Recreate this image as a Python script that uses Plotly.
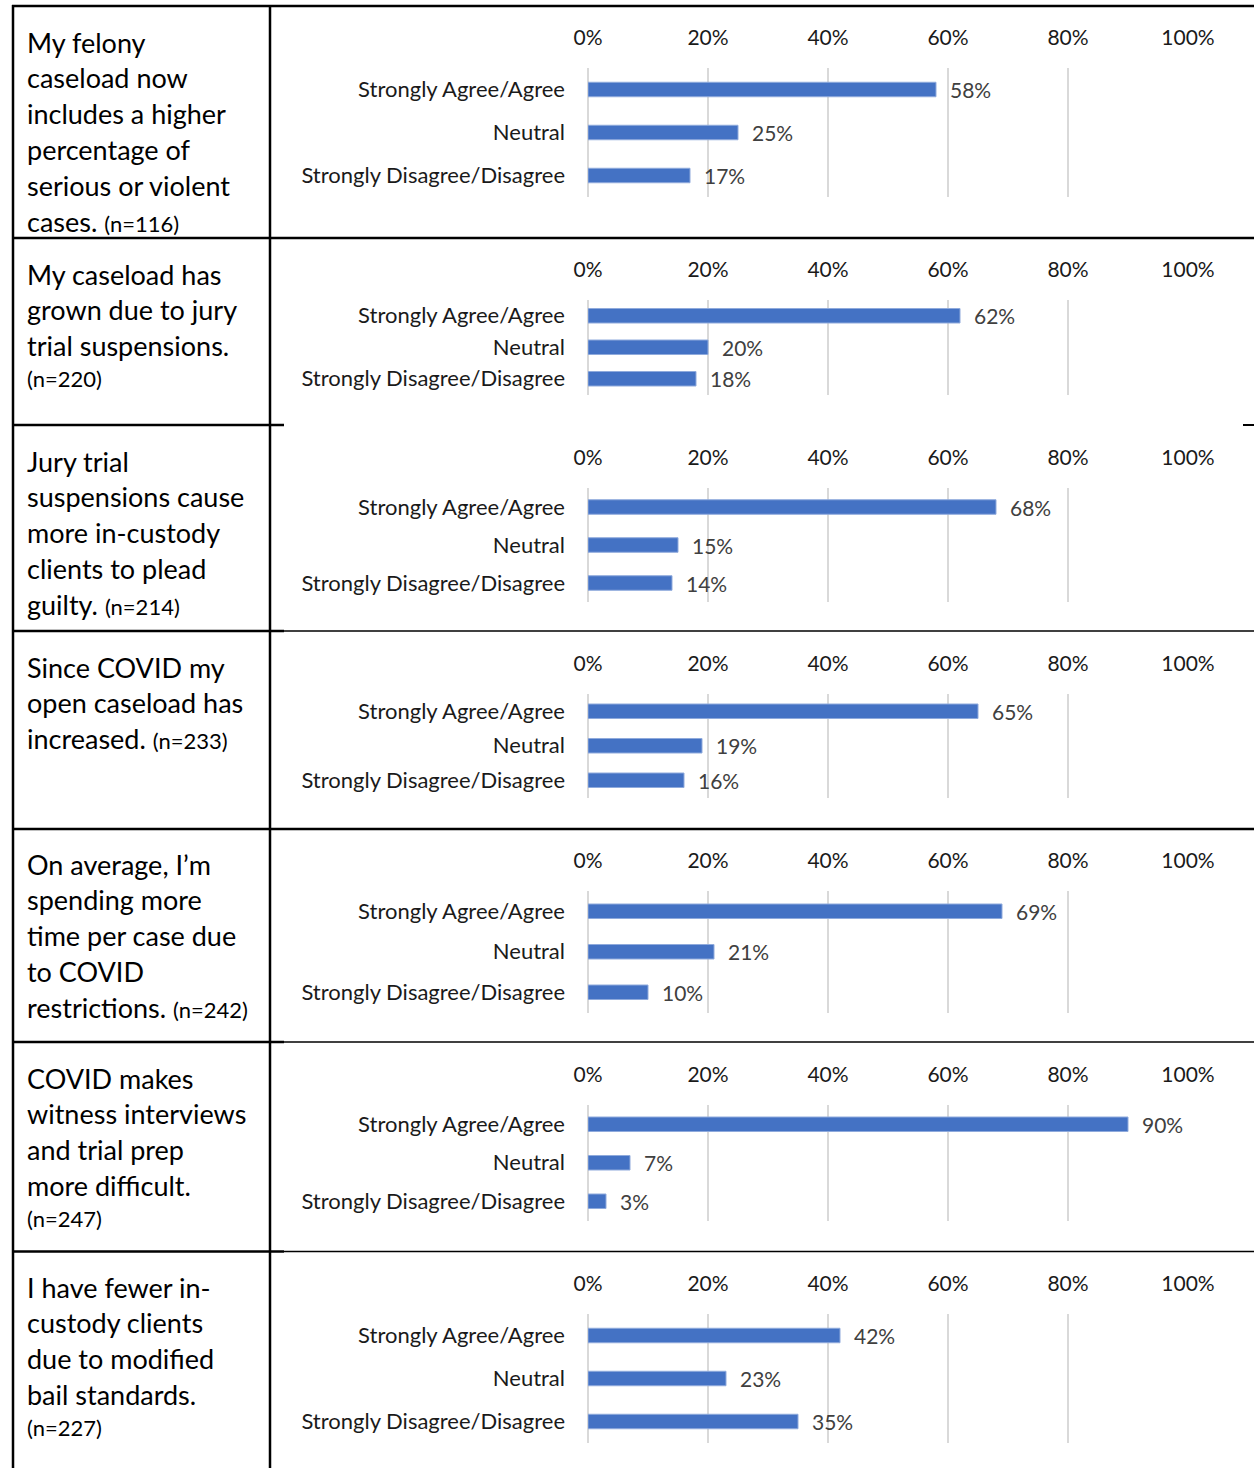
import plotly.graph_objects as go

# ---- data -------------------------------------------------------------
categories = ["Strongly Agree/Agree", "Neutral", "Strongly Disagree/Disagree"]

# share of respondents (%) per statement, in category order
felony_serious = [58, 25, 17]
jury_suspension_growth = [62, 20, 18]
plead_guilty = [68, 15, 14]
open_caseload = [65, 19, 16]
time_per_case = [69, 21, 10]
witness_prep = [90, 7, 3]
bail_standards = [42, 23, 35]

series = [felony_serious, jury_suspension_growth, plead_guilty, open_caseload,
          time_per_case, witness_prep, bail_standards]

# statement text, one entry per printed line; last element carries the sample size
statement_lines = [
    ["My felony", "caseload now", "includes a higher", "percentage of",
     "serious or violent", "cases."],
    ["My caseload has", "grown due to jury", "trial suspensions.", ""],
    ["Jury trial", "suspensions cause", "more in-custody", "clients to plead",
     "guilty."],
    ["Since COVID my", "open caseload has", "increased."],
    ["On average, I\u2019m", "spending more", "time per case due", "to COVID",
     "restrictions."],
    ["COVID makes", "witness interviews", "and trial prep", "more difficult.", ""],
    ["I have fewer in-", "custody clients", "due to modified", "bail standards.", ""],
]
sample_sizes = ["(n=116)", "(n=220)", "(n=214)", "(n=233)", "(n=242)", "(n=247)", "(n=227)"]

tick_values = [0, 20, 40, 60, 80, 100]
tick_labels = ["0%", "20%", "40%", "60%", "80%", "100%"]

# ---- page geometry (pixels) -------------------------------------------
W, H = 1254, 1468
FONT = "Lato"
BAR_BLUE = "#4472C4"
TICK_FONT = 21
CATEGORY_FONT = 22
STATEMENT_FONT = 27
NOTE_FONT = 22

# plot area top/bottom for each panel
panel_px = [(68, 197), (300, 394.5), (488, 602), (694, 797.5),
            (891, 1012.5), (1105, 1220.5), (1314, 1443)]
# first text line centre of each statement cell, line pitch
text_top_px = [42, 274, 461, 667, 864, 1078, 1287]
LINE_PITCH = 35.8
X_LEFT, X_RIGHT = 588, 1188
BAR_PX = 14.5


def px_x(x):
    return x / W


def px_y(y):
    return 1 - y / H


fig = go.Figure()
layout = dict(
    width=W, height=H, autosize=False,
    margin=dict(l=0, r=0, t=0, b=0, pad=0, autoexpand=False),
    paper_bgcolor="white", plot_bgcolor="white", showlegend=False,
    font=dict(family=FONT, size=TICK_FONT, color="#1a1a1a"),
)
annotations = []
shapes = []

for i, vals in enumerate(series):
    k = "" if i == 0 else str(i + 1)
    top, bot = panel_px[i]
    pitch = (bot - top) / 3
    fig.add_trace(go.Bar(
        x=vals, y=categories, orientation="h",
        xaxis="x" + k, yaxis="y" + k,
        width=BAR_PX / pitch,
        marker=dict(color=BAR_BLUE, line=dict(color="#8FAADC", width=1)),
        hoverinfo="skip",
    ))
    layout["xaxis" + k] = dict(
        domain=[px_x(X_LEFT), px_x(X_RIGHT)], range=[0, 100],
        anchor="y" + k, side="top", automargin=False,
        tickvals=tick_values, ticktext=tick_labels,
        showgrid=True, gridcolor="#D9D9D9", gridwidth=2,
        zeroline=True, zerolinecolor="#D9D9D9", zerolinewidth=2,
        showline=False, ticks="", ticklabelstandoff=18,
        tickfont=dict(family=FONT, size=TICK_FONT, color="#1a1a1a"),
        fixedrange=True,
    )
    layout["yaxis" + k] = dict(
        domain=[px_y(bot), px_y(top)], anchor="x" + k,
        type="category", autorange="reversed", automargin=False,
        showgrid=False, zeroline=False, showline=False, ticks="",
        ticklabelstandoff=22,
        tickfont=dict(family=FONT, size=CATEGORY_FONT, color="#1a1a1a"),
        fixedrange=True,
    )
    # value labels next to each bar
    for cat, v in zip(categories, vals):
        annotations.append(dict(
            x=v, y=cat, xref="x" + k, yref="y" + k,
            text=f"{v}%", showarrow=False, xanchor="left", xshift=12,
            font=dict(family=FONT, size=TICK_FONT, color="#404040"),
        ))
    # statement text in the left column
    lines = statement_lines[i]
    for j, line in enumerate(lines):
        last = j == len(lines) - 1
        if last and line == "":
            txt = sample_sizes[i]
            yc = text_top_px[i] + j * LINE_PITCH - 3
            size = NOTE_FONT
        elif last:
            txt = f"{line} <span style='font-size:{NOTE_FONT}px'>{sample_sizes[i]}</span>"
            yc = text_top_px[i] + j * LINE_PITCH
            size = STATEMENT_FONT
        else:
            txt = line
            yc = text_top_px[i] + j * LINE_PITCH
            size = STATEMENT_FONT
        annotations.append(dict(
            x=px_x(25), y=px_y(yc), xref="paper", yref="paper",
            text=txt, showarrow=False, xanchor="left", yanchor="middle",
            font=dict(family=FONT, size=size, color="#000000"),
        ))


def hline(y, x0, x1, w):
    shapes.append(dict(type="line", xref="paper", yref="paper",
                       x0=px_x(x0), x1=px_x(x1), y0=px_y(y), y1=px_y(y),
                       line=dict(color="black", width=w)))


def vline(x, y0, y1, w):
    shapes.append(dict(type="line", xref="paper", yref="paper",
                       x0=px_x(x), x1=px_x(x), y0=px_y(y0), y1=px_y(y1),
                       line=dict(color="black", width=w)))


# table rules
hline(6, 12, W, 2.5)
hline(238, 12, W, 2.5)
hline(425, 12, 284, 2.5)
hline(425, 1243, W, 2)
hline(631, 12, 284, 2.5)
hline(631, 284, W, 1.3)
hline(829, 12, W, 2.5)
hline(1042, 12, 284, 2.5)
hline(1042, 284, W, 1.3)
hline(1251.5, 12, 284, 2.5)
hline(1251.5, 284, W, 1.3)
vline(13, 5, H, 2.5)
vline(270, 5, H, 2.5)

layout["annotations"] = annotations
layout["shapes"] = shapes
fig.update_layout(**layout)
fig.write_html("out.html")
